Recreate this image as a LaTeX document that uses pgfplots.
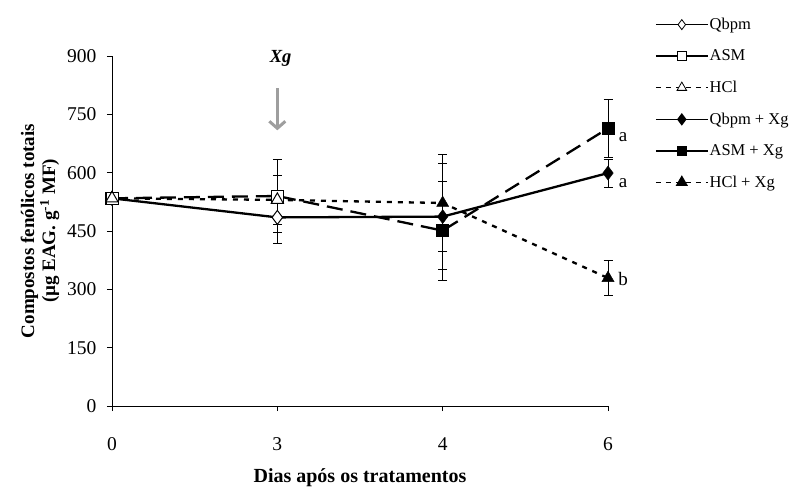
\documentclass[border=0pt]{standalone}
\usepackage{fontspec}
\setmainfont{Liberation Serif}
\usepackage{pgfplots}
\pgfplotsset{compat=1.18}
\usetikzlibrary{arrows.meta}
\begin{document}
\begin{tikzpicture}
\useasboundingbox (0,0) rectangle (793pt,488pt);
\begin{axis}[
  at={(112pt,82pt)}, anchor=south west,
  width=496pt, height=350pt, scale only axis,
  xmin=0, xmax=3, ymin=0, ymax=900,
  xtick={0,1,2,3}, xticklabels={0,3,4,6},
  ytick={0,150,300,450,600,750,900},
  axis x line*=bottom, axis y line*=left,
  axis line style={-, line width=0.9pt},
  tick align=outside, major tick length=5pt,
  tick style={black, line width=0.9pt},
  /pgf/number format/assume math mode=true,
  ticklabel style={font=\fontsize{19.5}{22}\selectfont},
  xticklabel style={anchor=north, yshift=-23pt},
  yticklabel style={anchor=east, xshift=-7pt},
  xlabel={Dias após os tratamentos},
  xlabel style={font=\fontsize{20}{23}\selectfont\bfseries, at={(axis description cs:0.5,-0.206)}, anchor=center},
  ylabel={Compostos fenólicos totais\\(µg EAG. g\textsuperscript{-1} MF)},
  ylabel style={font=\fontsize{19}{21}\selectfont\bfseries, align=center, at={(axis description cs:-0.145,0.5)}, anchor=center},
  clip=false,
  legend style={at={(axis description cs:1.0948,1.111)}, anchor=north west, draw=none, fill=none,
    inner sep=0pt, outer sep=0pt, row sep=16.8pt,
    font=\fontsize{16.5}{18}\selectfont,
    nodes={inner sep=1pt, anchor=west}},
  legend cell align=left,
  legend image code/.code={\draw[mark repeat=2, mark phase=2] plot coordinates {(0pt,0pt) (26pt,0pt) (52pt,0pt)};},
  error bars/y dir=both, error bars/y explicit,
  error bars/error bar style={solid, black, line width=1pt},
  error bars/error mark options={rotate=90, mark size=4.5pt, line width=1pt, solid},
]
% lines
\addplot[forget plot, black, line width=2.3pt, solid] coordinates {(0,534) (1,485) (2,487) (3,599)};
\addplot[forget plot, black, line width=2.3pt, dash pattern=on 16pt off 8pt] coordinates {(0,534) (1,540) (2,451) (3,714)};
\addplot[forget plot, black, line width=2.3pt, dash pattern=on 5pt off 6pt] coordinates {(0,534) (1,530) (2,522) (3,329)};
% open markers (days 0 and 3)
\addplot[forget plot, only marks, mark=diamond*, mark size=7pt, mark options={fill=white, draw=black, line width=1pt}] coordinates {(0,534) +- (0,0) (1,485) +- (0,67)};
\addplot[forget plot, only marks, mark=square*, mark size=6pt, mark options={fill=white, draw=black, line width=1pt}] coordinates {(0,534) +- (0,0) (1,540) +- (0,93)};
\addplot[forget plot, only marks, mark=triangle*, mark size=7pt, mark options={fill=white, draw=black, line width=1pt}] coordinates {(0,534) +- (0,0) (1,530) +- (0,63)};
% filled markers (days 4 and 6)
\addplot[forget plot, only marks, mark=diamond*, mark size=7pt, mark options={fill=black, draw=black}] coordinates {(2,487) +- (0,136) (3,599) +- (0,36)};
\addplot[forget plot, only marks, mark=square*, mark size=6pt, mark options={fill=black, draw=black}] coordinates {(2,451) +- (0,127) (3,714) +- (0,74)};
\addplot[forget plot, only marks, mark=triangle*, mark size=7pt, mark options={fill=black, draw=black}] coordinates {(2,522) +- (0,124) (3,329) +- (0,46)};
% legend
\addlegendimage{black, line width=1.6pt, solid, mark=diamond*, mark size=5pt, mark options={fill=white, line width=0.8pt}}
\addlegendentry{Qbpm}
\addlegendimage{black, line width=1.6pt, solid, mark=square*, mark size=4.5pt, mark options={fill=white, line width=0.8pt}}
\addlegendentry{ASM}
\addlegendimage{black, line width=1.6pt, dash pattern=on 5pt off 5pt, mark=triangle*, mark size=5.5pt, mark options={fill=white, solid, line width=0.8pt}}
\addlegendentry{HCl}
\addlegendimage{black, line width=1.6pt, solid, mark=diamond*, mark size=5pt, mark options={fill=black}}
\addlegendentry{Qbpm + Xg}
\addlegendimage{black, line width=1.6pt, solid, mark=square*, mark size=4.5pt, mark options={fill=black}}
\addlegendentry{ASM + Xg}
\addlegendimage{black, line width=1.6pt, dash pattern=on 5pt off 5pt, mark=triangle*, mark size=5.5pt, mark options={fill=black, solid}}
\addlegendentry{HCl + Xg}
% annotations
\node[font=\fontsize{18.5}{20}\selectfont\bfseries\itshape] at (axis cs:1.02,893) {Xg};
\draw[color=black!38, line width=3pt, -{Straight Barb[length=7pt, width=16pt]}] (axis cs:1,817) -- (axis cs:1,709);
\node[font=\fontsize{19}{21}\selectfont, anchor=center] at (axis cs:3,692) [xshift=15pt] {a};
\node[font=\fontsize{19}{21}\selectfont, anchor=center] at (axis cs:3,574) [xshift=15pt] {a};
\node[font=\fontsize{19}{21}\selectfont, anchor=center] at (axis cs:3,326) [xshift=15pt] {b};
\end{axis}
\end{tikzpicture}
\end{document}
